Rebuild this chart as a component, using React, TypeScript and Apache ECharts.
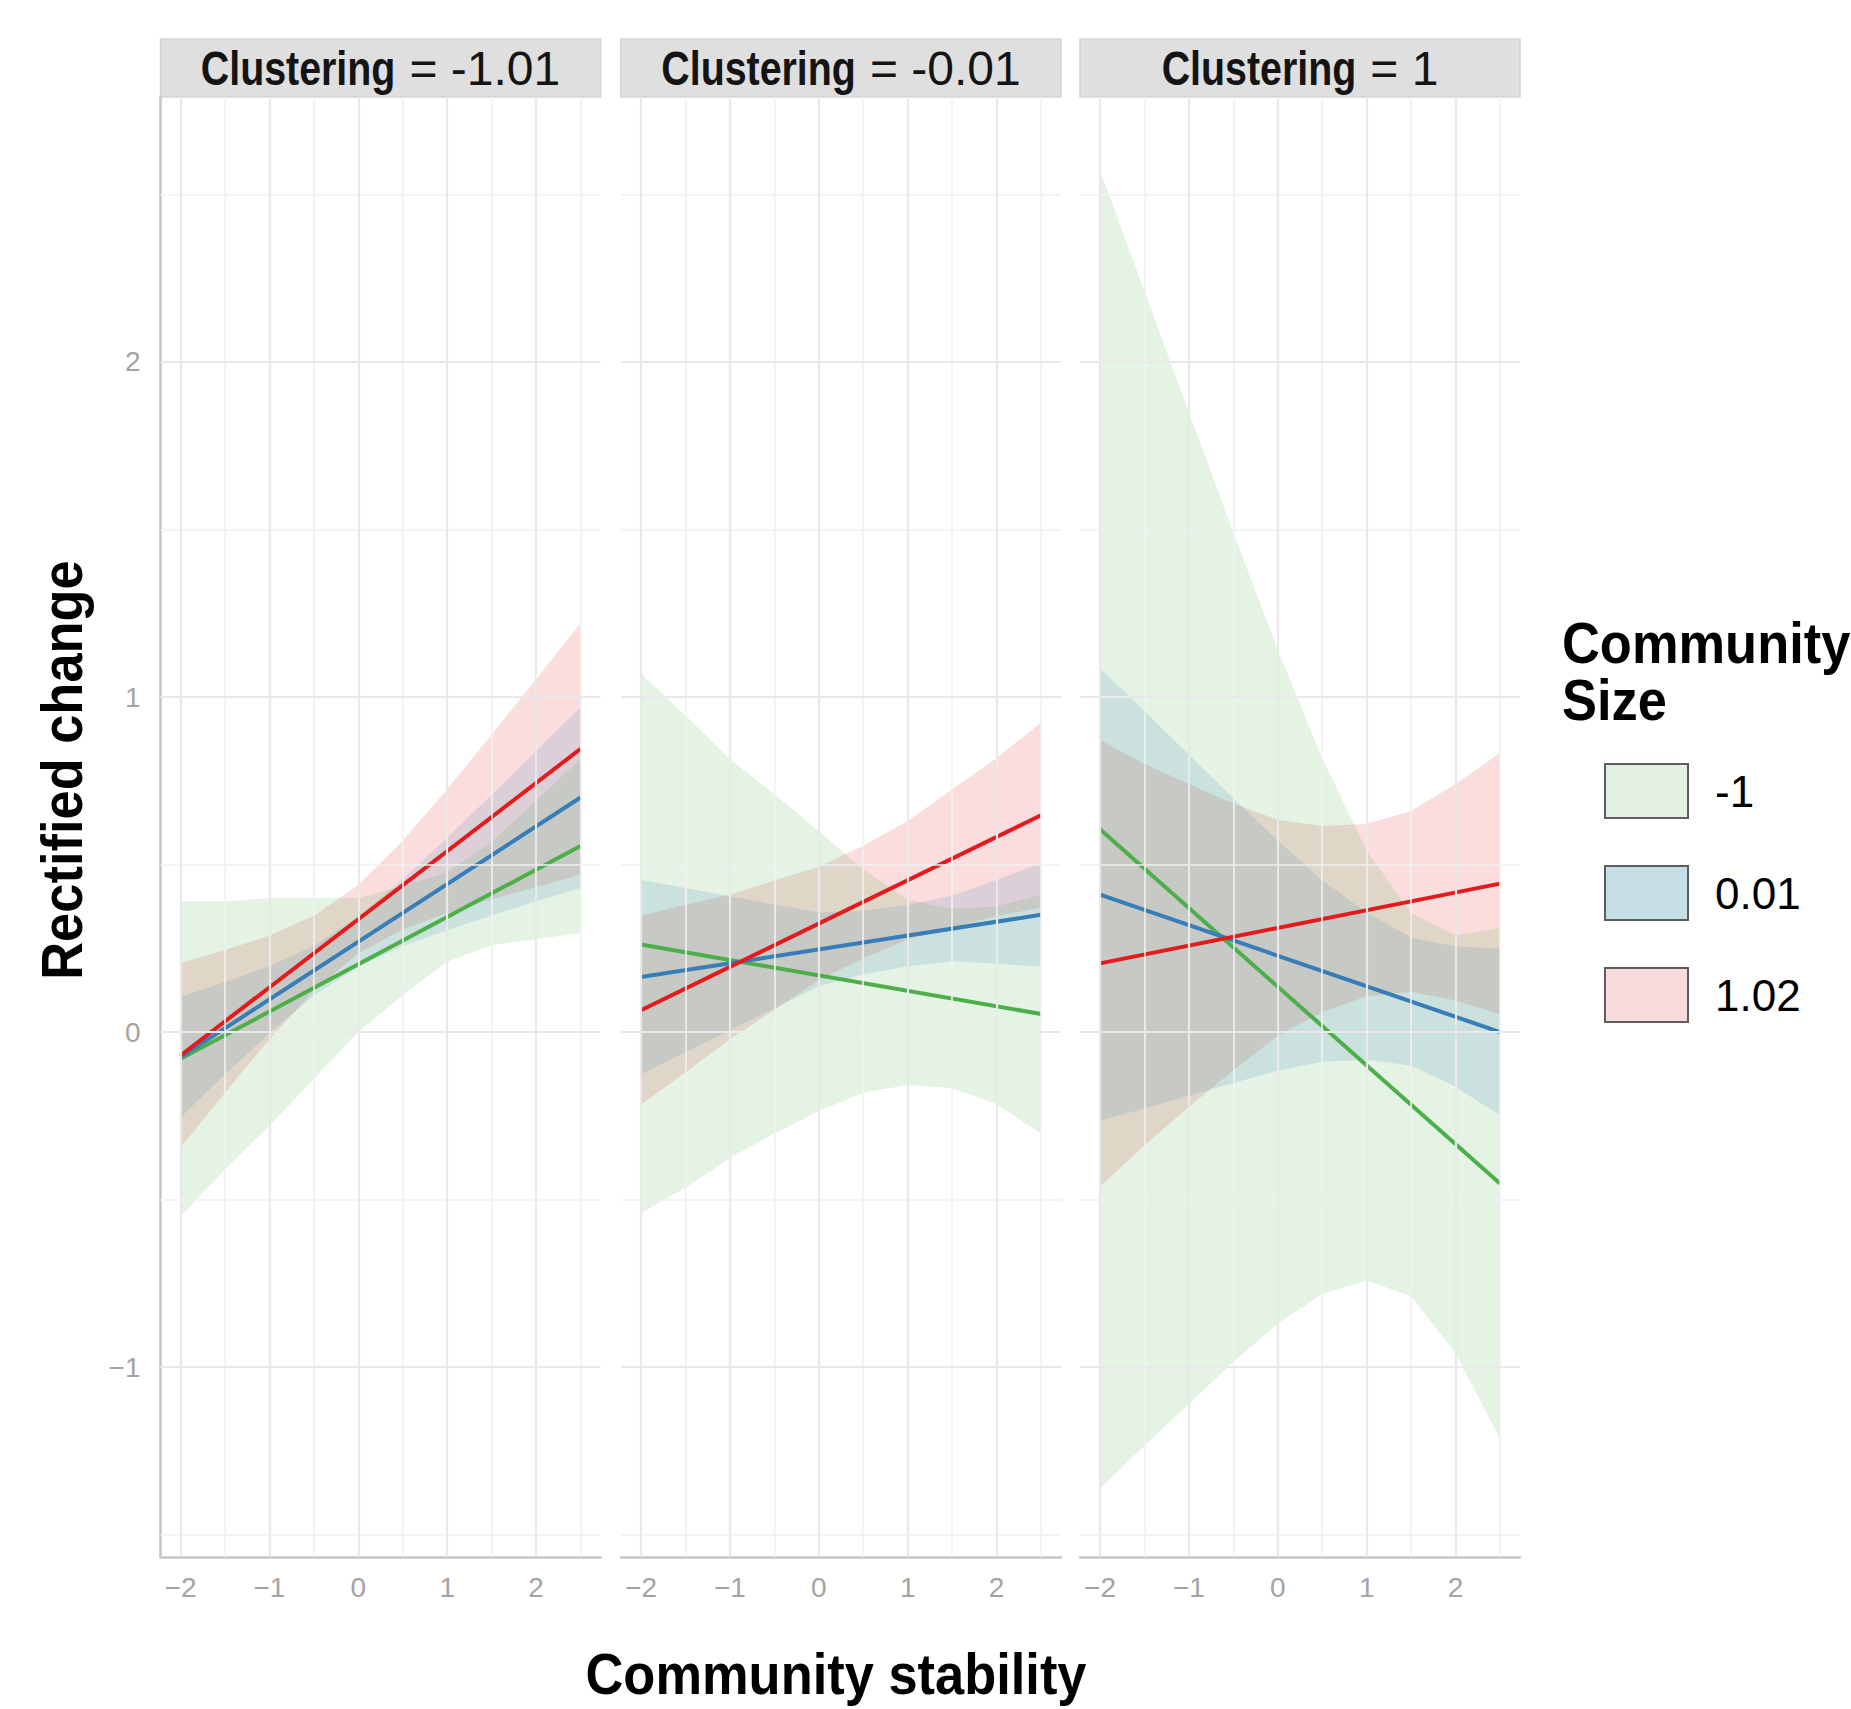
import React, { useEffect, useRef } from "react";
import * as echarts from "echarts";

// ---------- data ----------
const xGrid = [-2, -1.5, -1, -0.5, 0, 0.5, 1, 1.5, 2, 2.5];
const xEnds = [-2, 2.5];
const clusteringLevels = ["-1.01", "-0.01", "1"];
const sizeLevels = ["-1", "0.01", "1.02"];
const xMajorTicks = [-2, -1, 0, 1, 2];
const xMinorTicks = [-1.5, -0.5, 0.5, 1.5, 2.5];
const yMajorTicks = [-1, 0, 1, 2];
const yMinorTicks = [-1.5, -0.5, 0.5, 1.5, 2.5];

// Clustering = -1.01
const c1GreenLine = [-0.08, 0.555];
const c1BlueLine = [-0.075, 0.7];
const c1RedLine = [-0.07, 0.845];
const c1GreenLower = [-0.55, -0.41, -0.28, -0.14, 0.0, 0.11, 0.21, 0.26, 0.278, 0.295];
const c1GreenUpper = [0.39, 0.39, 0.4, 0.4, 0.4, 0.436, 0.476, 0.568, 0.69, 0.815];
const c1BlueLower = [-0.255, -0.127, -0.003, 0.109, 0.195, 0.256, 0.304, 0.348, 0.39, 0.43];
const c1BlueUpper = [0.105, 0.149, 0.197, 0.257, 0.343, 0.456, 0.58, 0.708, 0.839, 0.97];
const c1RedLower = [-0.345, -0.181, -0.022, 0.123, 0.235, 0.306, 0.355, 0.396, 0.433, 0.47];
const c1RedUpper = [0.205, 0.245, 0.288, 0.347, 0.439, 0.571, 0.725, 0.888, 1.053, 1.22];

// Clustering = -0.01
const c2GreenLine = [0.261, 0.054];
const c2BlueLine = [0.164, 0.35];
const c2RedLine = [0.065, 0.647];
const c2GreenLower = [-0.54, -0.465, -0.377, -0.303, -0.236, -0.181, -0.158, -0.168, -0.215, -0.303];
const c2GreenUpper = [1.07, 0.945, 0.815, 0.71, 0.6, 0.485, 0.395, 0.368, 0.375, 0.41];
const c2BlueLower = [-0.126, -0.06, 0.005, 0.071, 0.137, 0.172, 0.196, 0.211, 0.204, 0.195];
const c2BlueUpper = [0.454, 0.43, 0.405, 0.381, 0.357, 0.362, 0.38, 0.407, 0.454, 0.505];
const c2RedLower = [-0.217, -0.12, -0.022, 0.066, 0.155, 0.22, 0.276, 0.312, 0.346, 0.371];
const c2RedUpper = [0.347, 0.38, 0.41, 0.452, 0.493, 0.556, 0.63, 0.724, 0.818, 0.923];

// Clustering = 1
const c3GreenLine = [0.605, -0.452];
const c3BlueLine = [0.41, 0.0];
const c3RedLine = [0.205, 0.443];
const c3GreenLower = [-1.363, -1.235, -1.11, -0.985, -0.87, -0.782, -0.742, -0.789, -0.958, -1.215];
const c3GreenUpper = [2.573, 2.211, 1.85, 1.491, 1.14, 0.818, 0.542, 0.355, 0.288, 0.311];
const c3BlueLower = [-0.265, -0.228, -0.19, -0.152, -0.115, -0.089, -0.083, -0.1, -0.163, -0.249];
const c3BlueUpper = [1.085, 0.958, 0.828, 0.698, 0.571, 0.453, 0.357, 0.282, 0.255, 0.249];
const c3RedLower = [-0.462, -0.338, -0.224, -0.114, -0.011, 0.059, 0.107, 0.12, 0.094, 0.053];
const c3RedUpper = [0.872, 0.8, 0.74, 0.682, 0.633, 0.615, 0.621, 0.66, 0.74, 0.833];

// ---------- styling ----------
const FONT = "'Liberation Sans', Arial, Helvetica, sans-serif";
const lineColors = ["#4DAF4A", "#377EB8", "#E41A1C"];
const ribbonFills = ["rgba(77,175,74,0.15)", "rgba(55,126,184,0.15)", "rgba(228,26,28,0.15)"];
const keyFills = ["#E2F1E2", "#C6DFE6", "#F9DBDD"];

export default function App() {
  const ref = useRef<HTMLDivElement>(null);

  useEffect(() => {
    const el = ref.current;
    if (!el) return;
    const chart = echarts.init(el, null, { renderer: "svg" });

    const panels = [
      {
        lines: [c1GreenLine, c1BlueLine, c1RedLine],
        lower: [c1GreenLower, c1BlueLower, c1RedLower],
        upper: [c1GreenUpper, c1BlueUpper, c1RedUpper],
      },
      {
        lines: [c2GreenLine, c2BlueLine, c2RedLine],
        lower: [c2GreenLower, c2BlueLower, c2RedLower],
        upper: [c2GreenUpper, c2BlueUpper, c2RedUpper],
      },
      {
        lines: [c3GreenLine, c3BlueLine, c3RedLine],
        lower: [c3GreenLower, c3BlueLower, c3RedLower],
        upper: [c3GreenUpper, c3BlueUpper, c3RedUpper],
      },
    ];

    const gridLeft = [160.5, 621, 1080];
    const gridTop = 97;
    const gridW = 440;
    const gridH = 1460;
    const xMin = -2.225;
    const xMax = 2.725;
    const yMin = -1.567;
    const yMax = 2.791;

    const fmt = (v: number) => (v < 0 ? "\u2212" + Math.abs(v) : String(v));
    const tickColor = "#A3A3A3";
    const axisLineStyle = { color: "#C6C6C6", width: 2.5 };

    const grid = gridLeft.map((l) => ({
      left: l,
      top: gridTop,
      width: gridW,
      height: gridH,
      containLabel: false,
      outerBoundsMode: "none",
    }));

    const xAxis = gridLeft.map((_, p) => ({
      type: "value",
      gridIndex: p,
      min: xMin,
      max: xMax,
      axisLine: { show: true, onZero: false, lineStyle: axisLineStyle },
      axisTick: { show: false },
      splitLine: { show: false },
      axisLabel: {
        customValues: xMajorTicks,
        formatter: fmt,
        color: tickColor,
        fontSize: 28,
        fontFamily: FONT,
        margin: 16,
      },
    }));

    const yAxis = gridLeft.map((_, p) => ({
      type: "value",
      gridIndex: p,
      min: yMin,
      max: yMax,
      axisLine: { show: p === 0, onZero: false, lineStyle: axisLineStyle },
      axisTick: { show: false },
      splitLine: { show: false },
      axisLabel: {
        show: p === 0,
        customValues: yMajorTicks,
        formatter: fmt,
        color: tickColor,
        fontSize: 28,
        fontFamily: FONT,
        margin: 20,
      },
    }));

    const minorStyle = { color: "#F1F1F1", width: 1.6, type: "solid" };
    const majorStyle = { color: "#E9E9E9", width: 2.2, type: "solid" };

    const series: any[] = [];
    panels.forEach((panel, p) => {
      // grid lines through the axes' own scales
      series.push({
        type: "line",
        xAxisIndex: p,
        yAxisIndex: p,
        data: [],
        silent: true,
        z: 0,
        markLine: {
          silent: true,
          animation: false,
          symbol: ["none", "none"],
          label: { show: false },
          emphasis: { disabled: true },
          data: [
            ...xMinorTicks.map((v) => ({ xAxis: v, lineStyle: minorStyle })),
            ...yMinorTicks.map((v) => ({ yAxis: v, lineStyle: minorStyle })),
            ...xMajorTicks.map((v) => ({ xAxis: v, lineStyle: majorStyle })),
            ...yMajorTicks.map((v) => ({ yAxis: v, lineStyle: majorStyle })),
          ],
        },
      });

      // ribbons (draw order: red, green, blue)
      [2, 0, 1].forEach((g) => {
        const lo = panel.lower[g];
        const up = panel.upper[g];
        series.push({
          type: "custom",
          name: sizeLevels[g],
          xAxisIndex: p,
          yAxisIndex: p,
          silent: true,
          z: 2,
          itemStyle: { color: keyFills[g] },
          data: xGrid.map((x, i) => [x, lo[i], up[i]]),
          encode: { x: 0, y: [1, 2] },
          renderItem: (params: any, api: any) => {
            if (params.dataIndex !== 0) return null;
            const top = xGrid.map((x, i) => api.coord([x, up[i]]));
            const bottom = xGrid.map((x, i) => api.coord([x, lo[i]])).reverse();
            return {
              type: "polygon",
              shape: { points: top.concat(bottom) },
              style: { fill: ribbonFills[g], stroke: "none" },
            };
          },
        });
      });

      // fitted lines
      [0, 1, 2].forEach((g) => {
        const ln = panel.lines[g];
        series.push({
          type: "line",
          xAxisIndex: p,
          yAxisIndex: p,
          silent: true,
          z: 3,
          symbol: "none",
          showSymbol: false,
          lineStyle: { color: lineColors[g], width: 4 },
          itemStyle: { color: lineColors[g] },
          data: xEnds.map((x, i) => [x, ln[i]]),
        });
      });
    });

    // text measurement for strip labels
    const canvas = document.createElement("canvas");
    const ctx = canvas.getContext("2d");
    const measure = (t: string, font: string) => {
      if (!ctx) return t.length * 24;
      ctx.font = font;
      return ctx.measureText(t).width;
    };
    const stripBoldFont = `bold 48px ${FONT}`;
    const stripRegFont = `48px ${FONT}`;
    const stripScale = 0.82;

    const graphic: any[] = [];
    gridLeft.forEach((l, p) => {
      graphic.push({
        type: "rect",
        shape: { x: l, y: 39, width: gridW, height: 58 },
        style: { fill: "#DFDFDF", stroke: "#D3D3D3", lineWidth: 1.5 },
        silent: true,
      });
      const bw = measure("Clustering", stripBoldFont) * stripScale;
      const gap = 14;
      const regText = "= " + clusteringLevels[p];
      const rw = measure(regText, stripRegFont);
      const left = l + gridW / 2 - (bw + gap + rw) / 2;
      graphic.push({
        type: "text",
        x: left,
        y: 68,
        scaleX: stripScale,
        silent: true,
        style: {
          text: "Clustering",
          font: stripBoldFont,
          fill: "#141414",
          align: "left",
          verticalAlign: "middle",
          textAlign: "left",
          textVerticalAlign: "middle",
        },
      });
      graphic.push({
        type: "text",
        x: left + bw + gap,
        y: 68,
        silent: true,
        style: {
          text: regText,
          font: stripRegFont,
          fill: "#141414",
          align: "left",
          verticalAlign: "middle",
          textAlign: "left",
          textVerticalAlign: "middle",
        },
      });
    });

    const titleFont = `bold 57px ${FONT}`;
    const titleScale = 0.92;
    // y-axis title
    graphic.push({
      type: "text",
      x: 62,
      y: 770,
      rotation: Math.PI / 2,
      scaleX: titleScale,
      silent: true,
      style: {
        text: "Rectified change",
        font: titleFont,
        fill: "#000",
        align: "center",
        verticalAlign: "middle",
        textAlign: "center",
        textVerticalAlign: "middle",
      },
    });
    // x-axis title
    graphic.push({
      type: "text",
      x: 836,
      y: 1674,
      scaleX: titleScale,
      silent: true,
      style: {
        text: "Community stability",
        font: titleFont,
        fill: "#000",
        align: "center",
        verticalAlign: "middle",
        textAlign: "center",
        textVerticalAlign: "middle",
      },
    });
    // legend title
    ["Community", "Size"].forEach((t, i) => {
      graphic.push({
        type: "text",
        x: 1562,
        y: 643 + i * 57,
        scaleX: titleScale,
        silent: true,
        style: {
          text: t,
          font: titleFont,
          fill: "#000",
          align: "left",
          verticalAlign: "middle",
          textAlign: "left",
          textVerticalAlign: "middle",
        },
      });
    });

    const option: any = {
      animation: false,
      backgroundColor: "#FFFFFF",
      grid,
      xAxis,
      yAxis,
      legend: {
        orient: "vertical",
        left: 1599,
        top: 758,
        itemWidth: 83,
        itemHeight: 54,
        itemGap: 46,
        icon: "rect",
        selectedMode: false,
        textStyle: {
          fontSize: 44,
          fontFamily: FONT,
          color: "#000",
          padding: [0, 0, 0, 22],
        },
        data: sizeLevels.map((n, i) => ({
          name: n,
          itemStyle: { color: keyFills[i], borderColor: "#5E5E5E", borderWidth: 2 },
        })),
      },
      graphic: { elements: graphic },
      series,
    };

    chart.setOption(option);
    return () => chart.dispose();
  }, []);

  return (
    <div
      ref={ref}
      style={{ position: "absolute", left: 0, top: 0, width: 1851, height: 1709 }}
    />
  );
}
